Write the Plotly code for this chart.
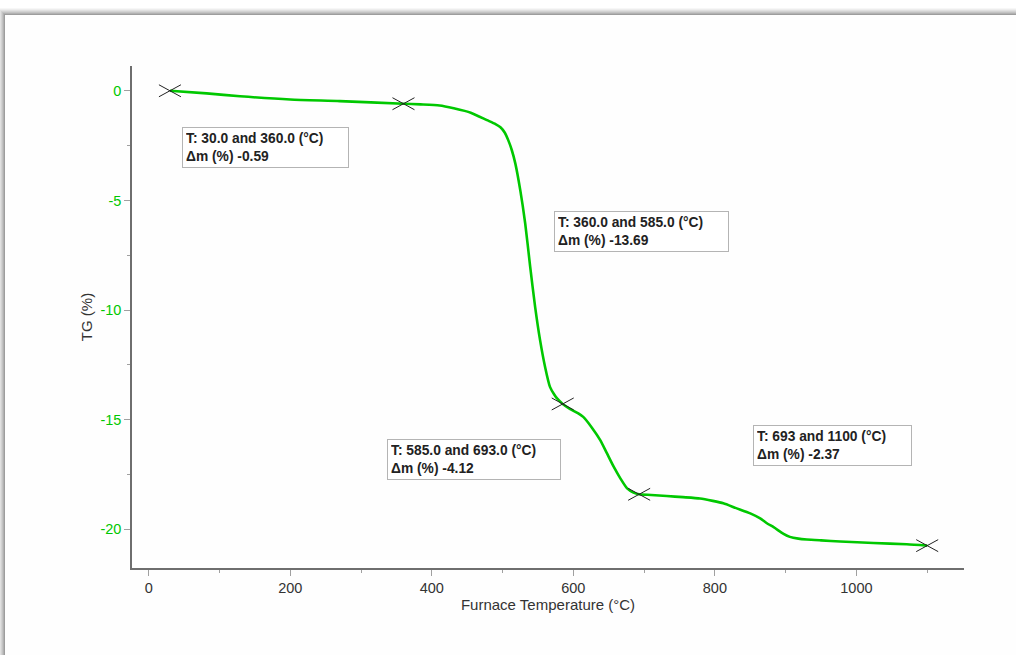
import plotly.graph_objects as go

# ---- data ----
temp_c = [30, 82, 129, 200, 270, 360, 384, 411, 431, 455, 478, 490, 497, 503, 508,
          513, 518, 525, 532, 539, 546, 553, 560, 567, 573, 577, 585, 595, 607, 614,
          626, 638, 647, 657, 666, 676, 685, 693, 710, 732, 755, 779, 797, 812, 830,
          850, 864, 874, 883, 897, 906, 918, 930, 950, 977, 1024, 1071, 1100]
tg_pct = [0.0, -0.12, -0.25, -0.40, -0.47, -0.59, -0.62, -0.67, -0.80, -1.00, -1.34,
          -1.52, -1.66, -1.90, -2.25, -2.70, -3.31, -4.53, -6.05, -8.02, -9.85, -11.37,
          -12.58, -13.50, -13.85, -14.03, -14.28, -14.50, -14.71, -14.87, -15.35, -15.93,
          -16.50, -17.14, -17.65, -18.13, -18.32, -18.40, -18.43, -18.48, -18.53, -18.59,
          -18.70, -18.81, -19.03, -19.27, -19.50, -19.73, -19.90, -20.20, -20.34, -20.42,
          -20.46, -20.50, -20.55, -20.62, -20.68, -20.74]

marker_t = [30, 360, 585, 693, 1100]
marker_tg = [0.0, -0.59, -14.28, -18.40, -20.74]

step_start = ["30.0", "360.0", "585.0", "693"]
step_end = ["360.0", "585.0", "693.0", "1100"]
step_dm = ["-0.59", "-13.69", "-4.12", "-2.37"]
# annotation box anchor (top-left) in data coords
box_x = [46.6, 572.9, 337.2, 853.7]
box_y = [-1.64, -5.47, -15.9, -15.23]
box_w = [159, 167, 166, 151]

y_tick_vals = [0, -5, -10, -15, -20]
y_tick_text = ["0", "-5", "-10", "-15", "-20"]

x_range = [-23.6, 1152]
y_range = [-21.76, 1.13]

GREEN = "rgb(0,200,0)"
AXIS = "#6e6e6e"
TEXT = "#333333"
FONT = "Arial, Liberation Sans, sans-serif"

fig = go.Figure()

fig.add_trace(go.Scatter(x=temp_c, y=tg_pct, mode="lines",
                         line=dict(color=GREEN, width=2.6, shape="spline", smoothing=0.6),
                         hoverinfo="skip", showlegend=False))

# flattened X markers (about 22 px wide, 12 px tall), built from marker data
px_per_x = 832 / (x_range[1] - x_range[0])
px_per_y = 502 / (y_range[1] - y_range[0])
dx = 11 / px_per_x
dy = 6 / px_per_y
cx, cy = [], []
for t, g in zip(marker_t, marker_tg):
    cx += [t - dx, t + dx, None, t - dx, t + dx, None]
    cy += [g + dy, g - dy, None, g - dy, g + dy, None]
fig.add_trace(go.Scatter(x=cx, y=cy, mode="lines", line=dict(color="#222222", width=1),
                         hoverinfo="skip", showlegend=False))

for s, e, d, bx, by, bw in zip(step_start, step_end, step_dm, box_x, box_y, box_w):
    fig.add_annotation(x=bx, y=by, xref="x", yref="y", xanchor="left", yanchor="top",
                       text=f"<b>T: {s} and {e} (°C)</b><br><b>Δm (%) {d}</b>",
                       showarrow=False, align="left", width=bw,
                       font=dict(family=FONT, size=13.8, color="#222222"),
                       bordercolor="#b4b4b4", borderwidth=1, borderpad=3,
                       bgcolor="white")

# panel with drop shadow
def px2paper_x(p):
    return (p - 132) / 832

def px2paper_y(p):
    return (568 - p) / 502

shapes = []
for i, op in enumerate([0.03, 0.04, 0.05, 0.06, 0.07, 0.09, 0.11]):
    off = 7 - i
    shapes.append(dict(type="rect", xref="paper", yref="paper", layer="below",
                       x0=px2paper_x(5 - off), x1=px2paper_x(1040),
                       y0=px2paper_y(700), y1=px2paper_y(15 - off),
                       fillcolor=f"rgba(0,0,0,{op})", line=dict(width=0)))
shapes.append(dict(type="rect", xref="paper", yref="paper", layer="below",
                   x0=px2paper_x(5), x1=px2paper_x(1040),
                   y0=px2paper_y(700), y1=px2paper_y(15),
                   fillcolor="#fefefe", line=dict(width=0)))

fig.update_layout(
    width=1016, height=655,
    margin=dict(l=132, r=52, t=66, b=87),
    paper_bgcolor="white", plot_bgcolor="rgba(0,0,0,0)",
    shapes=shapes,
    font=dict(family=FONT, color=TEXT),
    xaxis=dict(range=x_range, tick0=0, dtick=200, showgrid=False, zeroline=False,
               showline=True, linecolor=AXIS, linewidth=1.5,
               ticks="outside", ticklen=6, tickcolor="#a0a0a0", tickwidth=1,
               minor=dict(dtick=100, tick0=0, ticks="outside", ticklen=3,
                          tickcolor="#a0a0a0", showgrid=False),
               tickfont=dict(family=FONT, size=14.5, color=TEXT),
               title=dict(text="Furnace Temperature (°C)", standoff=3,
                          font=dict(family=FONT, size=15, color=TEXT))),
    yaxis=dict(range=y_range, tickmode="array", tickvals=y_tick_vals, ticktext=y_tick_text,
               showgrid=False, zeroline=False,
               showline=True, linecolor=AXIS, linewidth=1.5,
               ticks="outside", ticklen=6, tickcolor="#a0a0a0", tickwidth=1,
               minor=dict(dtick=2.5, tick0=0, ticks="outside", ticklen=3,
                          tickcolor="#a0a0a0", showgrid=False),
               tickfont=dict(family=FONT, size=14.5, color=GREEN),
               title=dict(text="TG (%)", standoff=4,
                          font=dict(family=FONT, size=15, color=TEXT))),
)

fig.write_html("out.html", config={"displayModeBar": False},
               post_script="document.body.style.margin='0';document.body.style.overflow='hidden';")
